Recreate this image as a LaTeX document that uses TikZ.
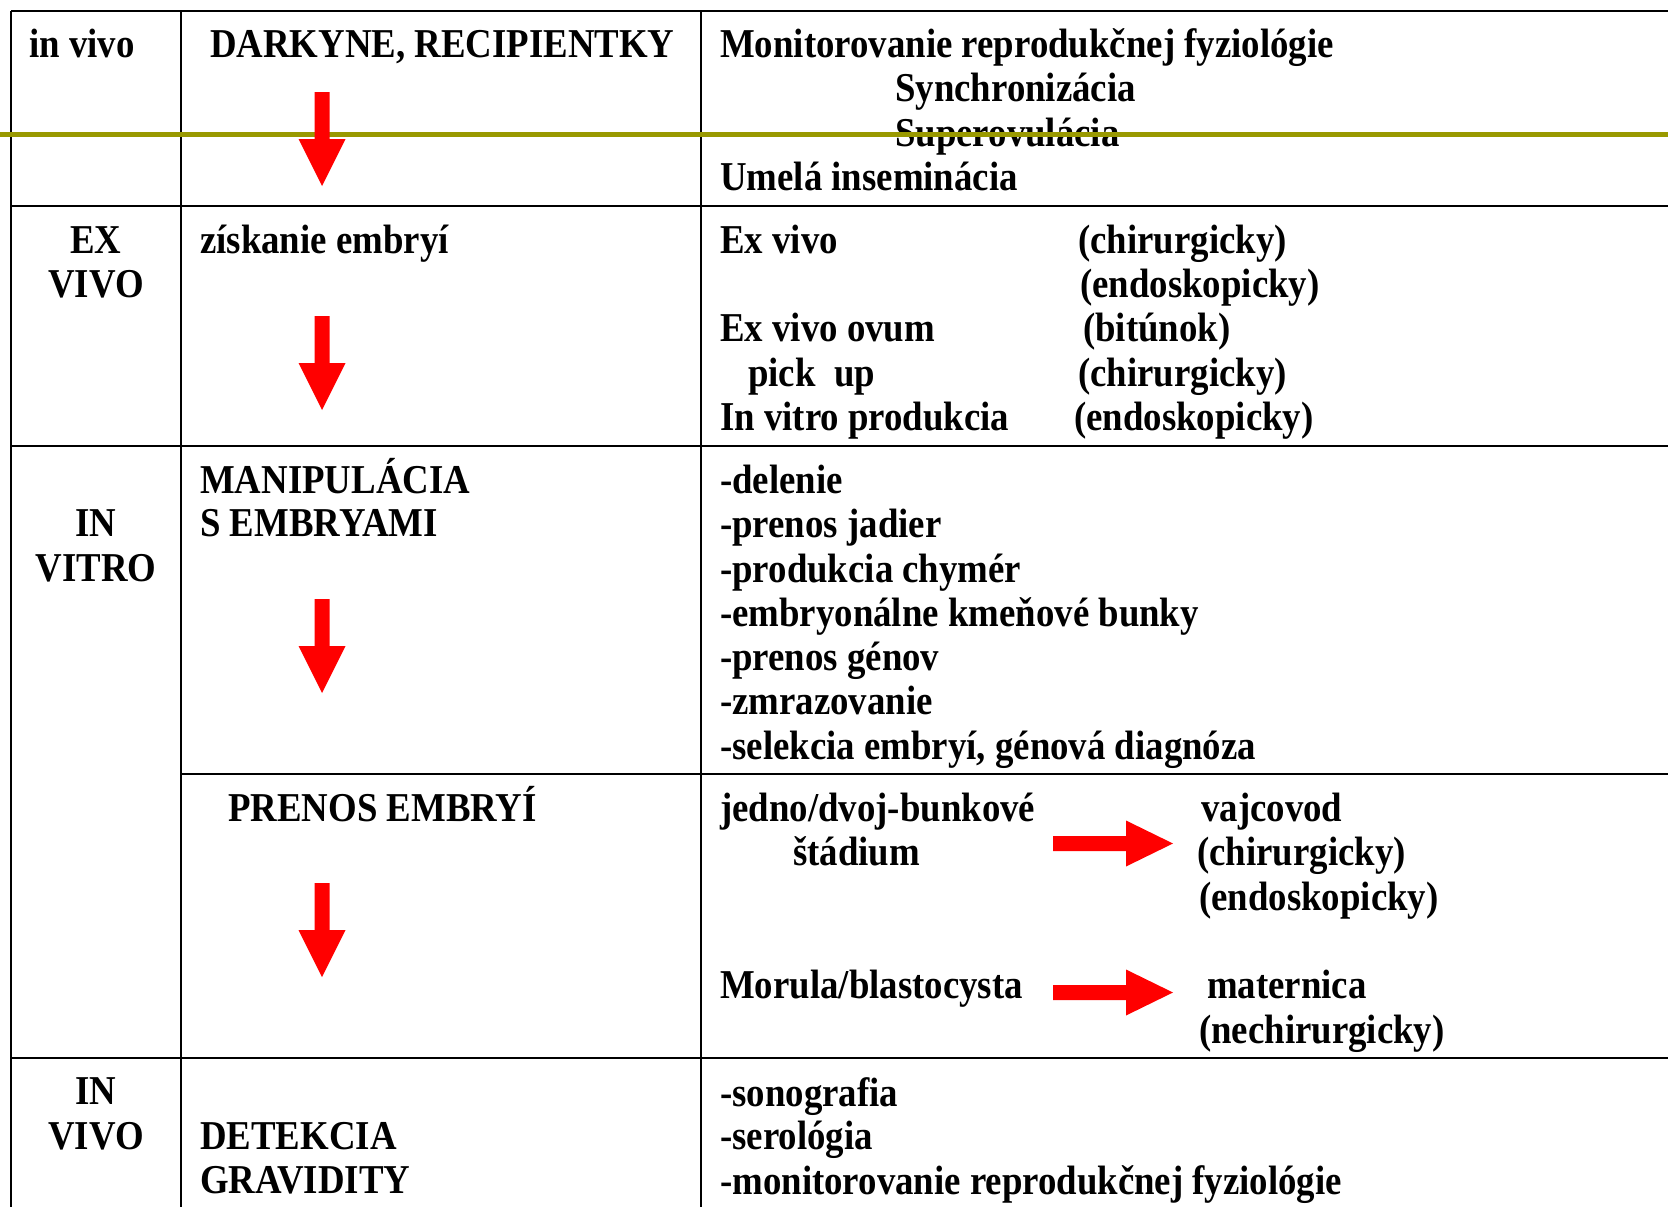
\documentclass[tikz,border=0pt]{standalone}
\usepackage{fontspec}
\setmainfont{Liberation Serif}[FakeStretch=0.898]
\definecolor{rule}{RGB}{153,153,0}
\definecolor{arrowred}{RGB}{255,0,0}
\tikzset{
  txt/.style={anchor=base west, inner sep=0pt, font=\fontsize{41}{44}\selectfont\bfseries},
  ctr/.style={anchor=base, inner sep=0pt, font=\fontsize{41}{44}\selectfont\bfseries},
  grid/.style={line width=2.3pt, black},
  downblock/.pic={\fill[arrowred] (-7.5,0) -- (7.5,0) -- (7.5,47) -- (23.5,47) -- (0,94) -- (-23.5,47) -- (-7.5,47) -- cycle;},
  rightblock/.pic={\fill[arrowred] (0,-7.5) -- (73,-7.5) -- (73,-23) -- (120,0) -- (73,23) -- (73,7.5) -- (0,7.5) -- cycle;}
}
\begin{document}
\begin{tikzpicture}[x=1pt,y=-1pt]
\useasboundingbox (0,0) rectangle (1668,1207);
\fill[white] (0,0) rectangle (1668,1207);

% table rules
\draw[grid] (11,11) -- (1668,11);
\draw[grid] (11,11) -- (11,1207);
\draw[grid] (181,11) -- (181,1207);
\draw[grid] (701,11) -- (701,1207);
\draw[grid] (11,206) -- (1668,206);
\draw[grid] (11,446) -- (1668,446);
\draw[grid] (181,774) -- (1668,774);
\draw[grid] (11,1058) -- (1668,1058);

% row 1
\node[txt] (invivo) at (29,58) {in vivo};
\node[txt] (darkyne) at (210,58) {DARKYNE, RECIPIENTKY};
\node[txt] (mon) at (720,58) {Monitorovanie reprodukčnej fyziológie};
\node[txt] (sync) at (895,102) {Synchronizácia};
\node[txt] (super) at (895,146) {Superovulácia};
\node[txt] (umela) at (720,190) {Umelá inseminácia};

% row 2
\node[ctr] (ex) at (96,253) {EX};
\node[ctr] (vivoA) at (96,297) {VIVO};
\node[txt] (ziskanie) at (200,253) {získanie embryí};
\node[txt] (exvivo) at (720,253) {Ex vivo};
\node[txt] (chirA) at (1078,253) {(chirurgicky)};
\node[txt] (endoA) at (1080,297) {(endoskopicky)};
\node[txt] (ovum) at (720,341) {Ex vivo ovum};
\node[txt] (bitunok) at (1083,341) {(bitúnok)};
\node[txt] (pickup) at (748,386) {pick\hspace{0.45em}up};
\node[txt] (chirB) at (1078,386) {(chirurgicky)};
\node[txt] (invitro) at (720,430) {In vitro produkcia};
\node[txt] (endoB) at (1074,430) {(endoskopicky)};

% row 3
\node[ctr] (in) at (96,536) {IN};
\node[ctr] (vitro) at (96,581) {VITRO};
\node[txt] (manip) at (200,493) {MANIPULÁCIA};
\node[txt] (sembr) at (200,536) {S EMBRYAMI};
\node[txt] (delenie) at (720,493) {-delenie};
\node[txt] (jadier) at (720,537) {-prenos jadier};
\node[txt] (chymer) at (720,582) {-produkcia chymér};
\node[txt] (kmen) at (720,626) {-embryonálne kmeňové bunky};
\node[txt] (genov) at (720,670) {-prenos génov};
\node[txt] (zmraz) at (720,714) {-zmrazovanie};
\node[txt] (selek) at (720,759) {-selekcia embryí, génová diagnóza};

% row 4
\node[txt] (prenos) at (228,821) {PRENOS EMBRYÍ};
\node[txt] (jedno) at (720,821) {jedno/dvoj-bunkové};
\node[txt] (stadium) at (793,865) {štádium};
\node[txt] (vajcovod) at (1201,821) {vajcovod};
\node[txt] (chirC) at (1197,865) {(chirurgicky)};
\node[txt] (endoC) at (1199,910) {(endoskopicky)};
\node[txt] (morula) at (720,998) {Morula/blastocysta};
\node[txt] (maternica) at (1207,998) {maternica};
\node[txt] (nechir) at (1199,1043) {(nechirurgicky)};

% row 5
\node[ctr] (inB) at (96,1104) {IN};
\node[ctr] (vivoB) at (96,1149) {VIVO};
\node[txt] (detekcia) at (200,1149) {DETEKCIA};
\node[txt] (gravidity) at (200,1193) {GRAVIDITY};
\node[txt] (sono) at (720,1106) {-sonografia};
\node[txt] (sero) at (720,1149) {-serológia};
\node[txt] (monB) at (720,1194) {-monitorovanie reprodukčnej fyziológie};

% olive rule across the top row
\draw[rule, line width=5pt] (0,134) -- (1668,134);

% red block arrows
\pic at (322,92) {downblock};
\pic at (322,316) {downblock};
\pic at (322,599) {downblock};
\pic at (322,883) {downblock};
\pic at (1053,843.5) {rightblock};
\pic at (1053,992.5) {rightblock};
\end{tikzpicture}
\end{document}
